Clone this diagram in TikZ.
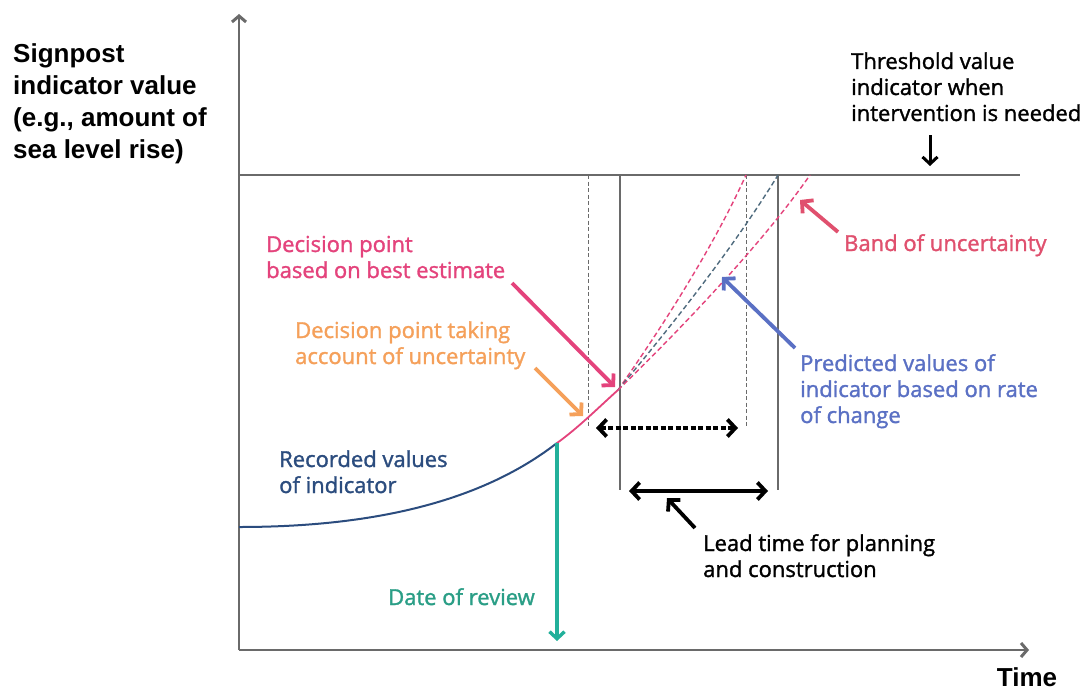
\documentclass[tikz,border=0pt]{standalone}
\usepackage{fontspec}
\setmainfont{Open Sans}
\newfontfamily\labfont{Open Sans}[FakeBold=1.4]
\newfontfamily\arialfont{Liberation Sans}
\usetikzlibrary{arrows.meta}
\definecolor{axisgray}{HTML}{6A6A6A}
\definecolor{navy}{HTML}{2B4C7E}
\definecolor{pinkc}{HTML}{E4437C}
\definecolor{bandpink}{HTML}{E0506E}
\definecolor{orangec}{HTML}{F5A05A}
\definecolor{tealc}{HTML}{22B09A}
\definecolor{tealtext}{HTML}{2A9E86}
\definecolor{predblue}{HTML}{5A70C4}
\definecolor{grayblue}{HTML}{4F6B7E}
\begin{document}
\begin{tikzpicture}[x=1pt,y=-1pt,
  axis/.style={draw=axisgray,line width=2pt},
  axarrow/.style={-{Straight Barb[length=6pt,width=14pt,line width=3pt]}},
  vsolid/.style={draw=axisgray,line width=1.4pt},
  vdash/.style={draw=axisgray,line width=1pt,dash pattern=on 4pt off 2.5pt},
  lbl/.style={anchor=base west,align=left,inner sep=0pt,font=\labfont\fontsize{22}{26}\selectfont},
  ptr/.style={line width=3.8pt,-{Straight Barb[length=8pt,width=17pt,line width=3.8pt]}},
  band/.style={line width=1.4pt,dash pattern=on 5pt off 3pt},
  dbl/.style={line width=3.8pt,{Straight Barb[length=8pt,width=17pt,line width=3.8pt]}-{Straight Barb[length=8pt,width=17pt,line width=3.8pt]}}
]
\useasboundingbox[fill=white] (0,0) rectangle (1086,690);

% axes
\coordinate (O) at (239,650);
\coordinate (ytop) at (239,14);
\coordinate (xend) at (1029,650);
\draw[axis,axarrow] (O) -- (ytop);
\draw[axis,axarrow] (O) -- (xend);

% threshold
\coordinate (thL) at (239,175);
\coordinate (thR) at (1020,175);
\draw[draw=axisgray,line width=1.6pt] (thL) -- (thR);

% vertical lines
\coordinate (v1t) at (588,175); \coordinate (v1b) at (588,428);
\coordinate (v2t) at (620,175); \coordinate (v2b) at (620,490);
\coordinate (v3t) at (746,175); \coordinate (v3b) at (746,428);
\coordinate (v4t) at (778,175); \coordinate (v4b) at (778,490);
\draw[vdash] (v1t) -- (v1b);
\draw[vsolid] (v2t) -- (v2b);
\draw[vdash] (v3t) -- (v3b);
\draw[vsolid] (v4t) -- (v4b);

% curves
\coordinate (r0) at (239,527);
\coordinate (r1) at (557,443);
\coordinate (d1) at (618,390);
\coordinate (bu) at (746,175);
\coordinate (bm) at (778,175);
\coordinate (bl) at (810,175);
\draw[navy,line width=2pt] (r0) .. controls (390,527) and (490,495) .. (r1);
\draw[pinkc,line width=1.8pt] (r1) .. controls (578,428) and (598,408) .. (d1);
\draw[band,pinkc] (d1) .. controls (660,330) and (712,250) .. (bu);
\draw[band,grayblue] (d1) .. controls (672,325) and (732,250) .. (bm);
\draw[band,pinkc] (d1) .. controls (685,325) and (765,240) .. (bl);

% date of review
\coordinate (rev) at (557,641);
\draw[tealc,line width=3.4pt,-{Straight Barb[length=7pt,width=15pt,line width=3.4pt]}] (r1) -- (rev);

% double arrows
\coordinate (da1) at (596,428); \coordinate (da2) at (738,428);
\draw[dbl,dash pattern=on 5pt off 2.5pt] (da1) -- (da2);
\coordinate (la1) at (629,491); \coordinate (la2) at (768,491);
\draw[dbl] (la1) -- (la2);

% y label
\node[anchor=base west,align=left,inner sep=0pt,font=\arialfont\bfseries\fontsize{26}{32}\selectfont] (ylab) at (13,158)
  {Signpost\\indicator value\\(e.g., amount of\\sea level rise)};
\node[anchor=base,inner sep=0pt,font=\arialfont\bfseries\fontsize{26}{32}\selectfont] (xlab) at (1027,686) {Time};

% threshold label
\node[lbl] (thlab) at (851,121) {Threshold value\\indicator when\\intervention is needed};
\coordinate (tha1) at (930,135); \coordinate (tha2) at (930,166);
\draw[line width=3pt,-{Straight Barb[length=7pt,width=15pt,line width=3pt]}] (tha1) -- (tha2);

% decision best estimate
\node[lbl,text=pinkc] (dpbest) at (266,278) {Decision point\\based on best estimate};
\coordinate (dpbt) at (512,283); \coordinate (dpbh) at (615,387);
\draw[ptr,pinkc] (dpbt) -- (dpbh);

% decision uncertainty
\node[lbl,text=orangec] (dpunc) at (295,364) {Decision point taking\\account of uncertainty};
\coordinate (dput) at (535,368); \coordinate (dpuh) at (583,416);
\draw[ptr,orangec] (dput) -- (dpuh);

% recorded values
\node[lbl,text=navy] (rec) at (279,493) {Recorded values\\of indicator};

% date of review label
\node[lbl,text=tealtext] (revlab) at (388,605) {Date of review};

% band of uncertainty
\node[lbl,text=bandpink] (bandlab) at (844,251) {Band of uncertainty};
\coordinate (bat) at (838,232); \coordinate (bah) at (800,200);
\draw[ptr,bandpink] (bat) -- (bah);

% predicted values
\node[lbl,text=predblue] (pred) at (800,423) {Predicted values of\\indicator based on rate\\of change};
\coordinate (pat) at (795,348); \coordinate (pah) at (722,277);
\draw[ptr,predblue] (pat) -- (pah);

% lead time
\node[lbl] (lead) at (703,577) {Lead time for planning\\and construction};
\coordinate (lat) at (695,528); \coordinate (lah) at (667,498);
\draw[ptr,black] (lat) -- (lah);
\end{tikzpicture}
\end{document}
